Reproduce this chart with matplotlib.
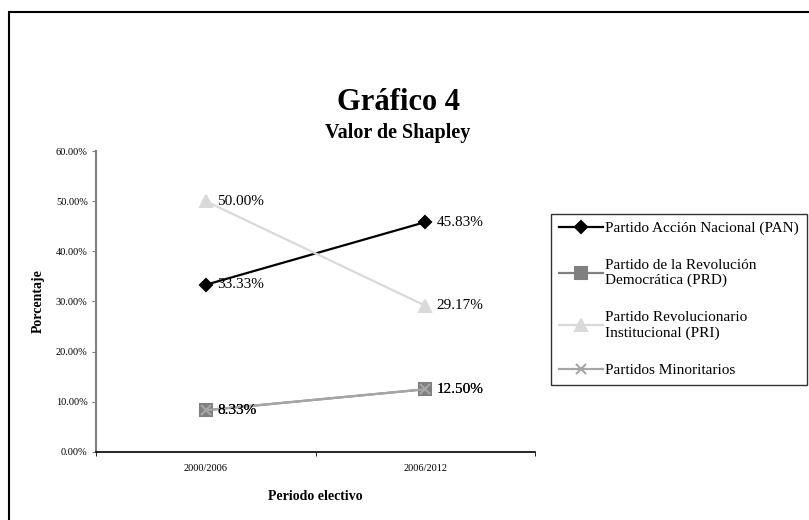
import matplotlib.pyplot as plt
from matplotlib.patches import Rectangle

# data
periodos = ["2000/2006", "2006/2012"]
pan = [33.33, 45.83]
prd = [8.33, 12.50]
pri = [50.00, 29.17]
minoritarios = [8.33, 12.50]
nombres = ["Partido Acción Nacional (PAN)",
           "Partido de la Revolución\nDemocrática (PRD)",
           "Partido Revolucionario\nInstitucional (PRI)",
           "Partidos Minoritarios"]
yticks = [0, 10, 20, 30, 40, 50, 60]

plt.rcParams['font.family'] = ['Liberation Serif', 'DejaVu Serif']

fig = plt.figure(figsize=(8.09, 5.2), dpi=100)
ax = fig.add_axes([0.1187, 0.1308, 0.5426, 0.5788])

x = [0.5, 1.5]
estilos = [
    (pan, "black", "D", 6, "black"),
    (prd, "#808080", "s", 8, "#808080"),
    (pri, "#d9d9d9", "^", 8, "#d9d9d9"),
    (minoritarios, "#a6a6a6", "x", 7, "#a6a6a6"),
]
for (vals, col, mk, ms, mc), nom in zip(estilos, nombres):
    ax.plot(x, vals, color=col, lw=1.6, marker=mk, markersize=ms,
            markerfacecolor=mc, markeredgecolor=mc, mew=1.5, label=nom)

# data labels
for vals in [pan, pri, prd, minoritarios]:
    for xi, v in zip(x, vals):
        ax.annotate(f"{v:.2f}%", (xi, v), xytext=(8, 0), textcoords="offset points",
                    ha="left", va="center", fontsize=11, color="black")

ax.set_xlim(0, 2)
ax.set_ylim(0, 60)
ax.set_xticks(x)
ax.set_xticklabels(periodos, fontsize=7.5)
ax.set_xticks([0, 1, 2], minor=True)
ax.tick_params(axis="x", which="major", length=0, pad=9)
ax.tick_params(axis="x", which="minor", length=3, direction="out")
ax.set_yticks(yticks)
ax.set_yticklabels([f"{t:.2f}%" for t in yticks], fontsize=7.5)
ax.tick_params(axis="y", length=3, direction="out", color="#808080", pad=3)
ax.spines["top"].set_visible(False)
ax.spines["right"].set_visible(False)
ax.spines["left"].set_color("#808080")
ax.spines["left"].set_linewidth(1.5)
ax.spines["bottom"].set_color("black")
ax.spines["bottom"].set_linewidth(1.2)

ax.set_ylabel("Porcentaje", fontsize=10, fontweight="bold", labelpad=8)
ax.set_xlabel("Periodo electivo", fontsize=10, fontweight="bold", labelpad=12)

fig.text(0.492, 0.802, "Gráfico 4", ha="center", va="center",
         fontsize=22, fontweight="bold")
fig.text(0.492, 0.745, "Valor de Shapley", ha="center", va="center",
         fontsize=14.5, fontweight="bold")

leg = fig.legend(loc="upper left", bbox_to_anchor=(0.681, 0.589), fontsize=11,
                 frameon=True, fancybox=False, edgecolor="black",
                 labelspacing=1.55, handlelength=2.9, handletextpad=0.15,
                 borderpad=0.5, borderaxespad=0)
leg.get_frame().set_linewidth(1.0)

# outer frame of the chart area
fig.patches.append(Rectangle((9 / 809, -0.05), 1.1, (520 - 12) / 520 + 0.05,
                             transform=fig.transFigure, fill=False,
                             edgecolor="black", lw=1.5))

fig.savefig("out.png", dpi=100)
